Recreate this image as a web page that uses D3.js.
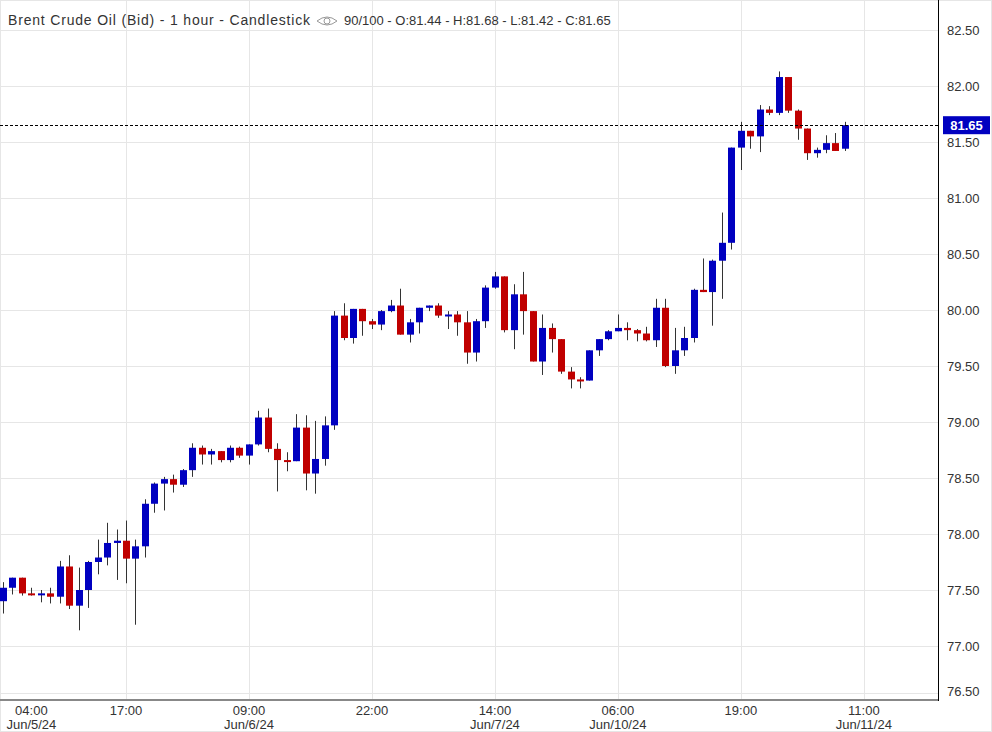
<!DOCTYPE html>
<html><head><meta charset="utf-8">
<script src="https://cdn.jsdelivr.net/npm/d3@7"></script>
<style>body{margin:0;background:#fff;font-family:Arial,"Liberation Sans",sans-serif}</style>
</head><body><svg id="c" width="992" height="732"></svg>
<script>
// OHLC, 1 hour candles
const opens  = [77.40,77.52,77.61,77.47,77.46,77.47,77.44,77.71,77.36,77.50,77.75,77.79,77.92,77.94,77.78,77.89,78.27,78.45,78.49,78.44,78.57,78.77,78.71,78.74,78.66,78.77,78.70,78.80,79.04,78.76,78.66,78.65,78.95,78.54,78.67,
  78.97,79.95,79.75,80.01,79.90,79.87,79.99,80.04,79.78,79.89,80.02,80.04,79.95,79.96,79.89,79.62,79.90,80.20,80.30,79.82,80.14,79.99,79.54,79.84,79.74,79.45,79.38,79.37,79.64,79.74,79.81,79.84,79.82,79.79,79.73,
  80.02,79.50,79.64,79.75,80.18,80.16,80.44,80.60,81.45,81.60,81.55,81.79,81.76,82.08,81.78,81.62,81.40,81.43,81.49,81.44];
const highs  = [77.57,77.61,77.61,77.52,77.50,77.52,77.76,77.81,77.70,77.76,77.95,78.10,78.04,78.12,77.95,78.31,78.46,78.51,78.53,78.58,78.81,78.79,78.76,78.74,78.79,78.78,78.80,79.10,79.12,78.81,78.73,79.07,79.06,79.01,79.05,
  79.99,80.06,80.01,80.01,79.92,80.00,80.09,80.19,79.92,80.02,80.04,80.06,79.99,79.99,79.99,79.92,80.22,80.34,80.30,80.23,80.34,79.99,79.96,79.88,79.74,79.49,79.40,79.64,79.74,79.82,79.96,79.89,79.83,79.85,80.10,
  80.10,79.84,79.85,80.19,80.46,80.45,80.87,81.45,81.68,81.60,81.83,81.82,82.13,82.08,81.79,81.62,81.45,81.56,81.58,81.68];
const lows   = [77.29,77.46,77.45,77.45,77.39,77.38,77.38,77.33,77.14,77.34,77.64,77.72,77.59,77.56,77.19,77.79,78.19,78.21,78.37,78.42,78.51,78.62,78.62,78.64,78.64,78.68,78.62,78.79,78.73,78.38,78.56,78.65,78.39,78.36,78.61,
  78.93,79.73,79.70,79.77,79.83,79.82,79.98,79.78,79.71,79.79,79.99,79.93,79.83,79.77,79.52,79.54,79.84,80.19,79.80,79.65,79.78,79.54,79.42,79.62,79.43,79.30,79.30,79.37,79.59,79.73,79.81,79.73,79.72,79.72,79.67,
  79.49,79.43,79.59,79.71,80.16,79.86,80.10,80.54,81.25,81.44,81.41,81.74,81.74,81.76,81.52,81.34,81.36,81.40,81.42,81.42];
const closes = [77.52,77.61,77.47,77.46,77.47,77.44,77.71,77.36,77.50,77.75,77.79,77.92,77.94,77.78,77.89,78.27,78.45,78.49,78.44,78.57,78.77,78.71,78.74,78.66,78.77,78.70,78.80,79.04,78.76,78.66,78.65,78.95,78.54,78.67,78.97,
  79.95,79.75,80.01,79.90,79.87,79.99,80.04,79.78,79.89,80.02,80.04,79.95,79.96,79.89,79.62,79.90,80.20,80.30,79.82,80.14,79.99,79.54,79.84,79.74,79.45,79.38,79.37,79.64,79.74,79.81,79.84,79.82,79.79,79.73,80.02,
  79.50,79.64,79.75,80.18,80.16,80.44,80.60,81.45,81.60,81.55,81.79,81.76,82.08,81.78,81.62,81.40,81.43,81.49,81.42,81.65];
const tickIdx   = [3,13,26,39,52,65,78,91];
const tickTimes = ["04:00","17:00","09:00","22:00","14:00","06:00","19:00","11:00"];
const tickDates = ["Jun/5/24","","Jun/6/24","","Jun/7/24","Jun/10/24","","Jun/11/24"];
const gridIdx   = [13,26,39,52,65,78,91];
const priceTicks = [76.5,77,77.5,78,78.5,79,79.5,80,80.5,81,81.5,82,82.5];
const lastPrice = 81.65;

const W = 938, H = 700;
const svg = d3.select("#c");
const x = d3.scaleLinear().domain([0, 99]).range([3, 939.5]);
const y = d3.scaleLinear().domain([77, 82.5]).range([646, 30]);
const cw = 7;

// grid
svg.append("g").selectAll("line").data(priceTicks).join("line")
  .attr("x1", 0).attr("x2", W).attr("y1", d => Math.min(y(d), 693) + .5).attr("y2", d => Math.min(y(d), 693) + .5)
  .attr("stroke", "#e6e6e6");
svg.append("g").selectAll("line").data(gridIdx).join("line")
  .attr("x1", d => Math.round(x(d)) + .5).attr("x2", d => Math.round(x(d)) + .5).attr("y1", 0).attr("y2", H)
  .attr("stroke", "#e6e6e6");
svg.append("rect").attr("x", .5).attr("y", .5).attr("width", 991).attr("height", 731).attr("fill", "none").attr("stroke", "#e6e6e6");

// candles
const idx = d3.range(opens.length);
const g = svg.append("g");
g.selectAll("line").data(idx).join("line")
  .attr("x1", i => Math.round(x(i)) + .5).attr("x2", i => Math.round(x(i)) + .5)
  .attr("y1", i => y(highs[i])).attr("y2", i => y(lows[i]))
  .attr("stroke", "#333").attr("stroke-width", 1);
g.selectAll("rect").data(idx).join("rect")
  .attr("x", i => Math.round(x(i)) - 3).attr("width", cw)
  .attr("y", i => y(Math.max(opens[i], closes[i])))
  .attr("height", i => Math.max(2, Math.abs(y(opens[i]) - y(closes[i]))))
  .attr("fill", i => closes[i] >= opens[i] ? "#0000c0" : "#c00000");

// last price line
svg.append("line").attr("x1", 0).attr("x2", W).attr("y1", Math.round(y(lastPrice)) + .5).attr("y2", Math.round(y(lastPrice)) + .5)
  .attr("stroke", "#000").attr("stroke-dasharray", "3,2");

// axes
svg.append("line").attr("x1", W + .5).attr("x2", W + .5).attr("y1", 0).attr("y2", H + 1).attr("stroke", "#000");
svg.append("line").attr("x1", 0).attr("x2", W).attr("y1", H).attr("y2", H).attr("stroke", "#888").attr("stroke-width", 2);
svg.append("g").selectAll("text").data(priceTicks).join("text")
  .attr("x", 947).attr("y", d => Math.min(y(d), 691) + 5)
  .attr("font-size", 13).attr("fill", "#333").text(d => d.toFixed(2));
const lp = svg.append("g").attr("transform", `translate(943,${y(lastPrice) - 9})`);
lp.append("rect").attr("width", 47).attr("height", 18).attr("fill", "#0000c0");
lp.append("text").attr("x", 23.5).attr("y", 14).attr("text-anchor", "middle").attr("fill", "#fff")
  .attr("font-size", 13).attr("font-weight", "bold").text(lastPrice.toFixed(2));

const xt = svg.append("g").selectAll("g").data(tickIdx).join("g")
  .attr("transform", d => `translate(${x(d)},0)`);
xt.append("text").attr("y", 715).attr("text-anchor", "middle").attr("font-size", 13).attr("fill", "#333")
  .text((d, i) => tickTimes[i]);
xt.append("text").attr("y", 729).attr("text-anchor", "middle").attr("font-size", 13).attr("fill", "#333")
  .text((d, i) => tickDates[i]);

// header
svg.append("text").attr("x", 8).attr("y", 25).attr("font-size", 14).attr("fill", "#333")
  .attr("textLength", 302).attr("lengthAdjust", "spacing")
  .text("Brent Crude Oil (Bid) - 1 hour - Candlestick");
const eye = svg.append("g").attr("transform", "translate(327,21)").attr("fill", "none").attr("stroke", "#999");
eye.append("path").attr("d", "M-10,0 Q0,-8 10,0 Q0,8 -10,0Z");
eye.append("circle").attr("r", 3);
svg.append("text").attr("x", 344).attr("y", 25).attr("font-size", 13).attr("fill", "#333")
  .text("90/100 - O:81.44 - H:81.68 - L:81.42 - C:81.65");
</script></body></html>
